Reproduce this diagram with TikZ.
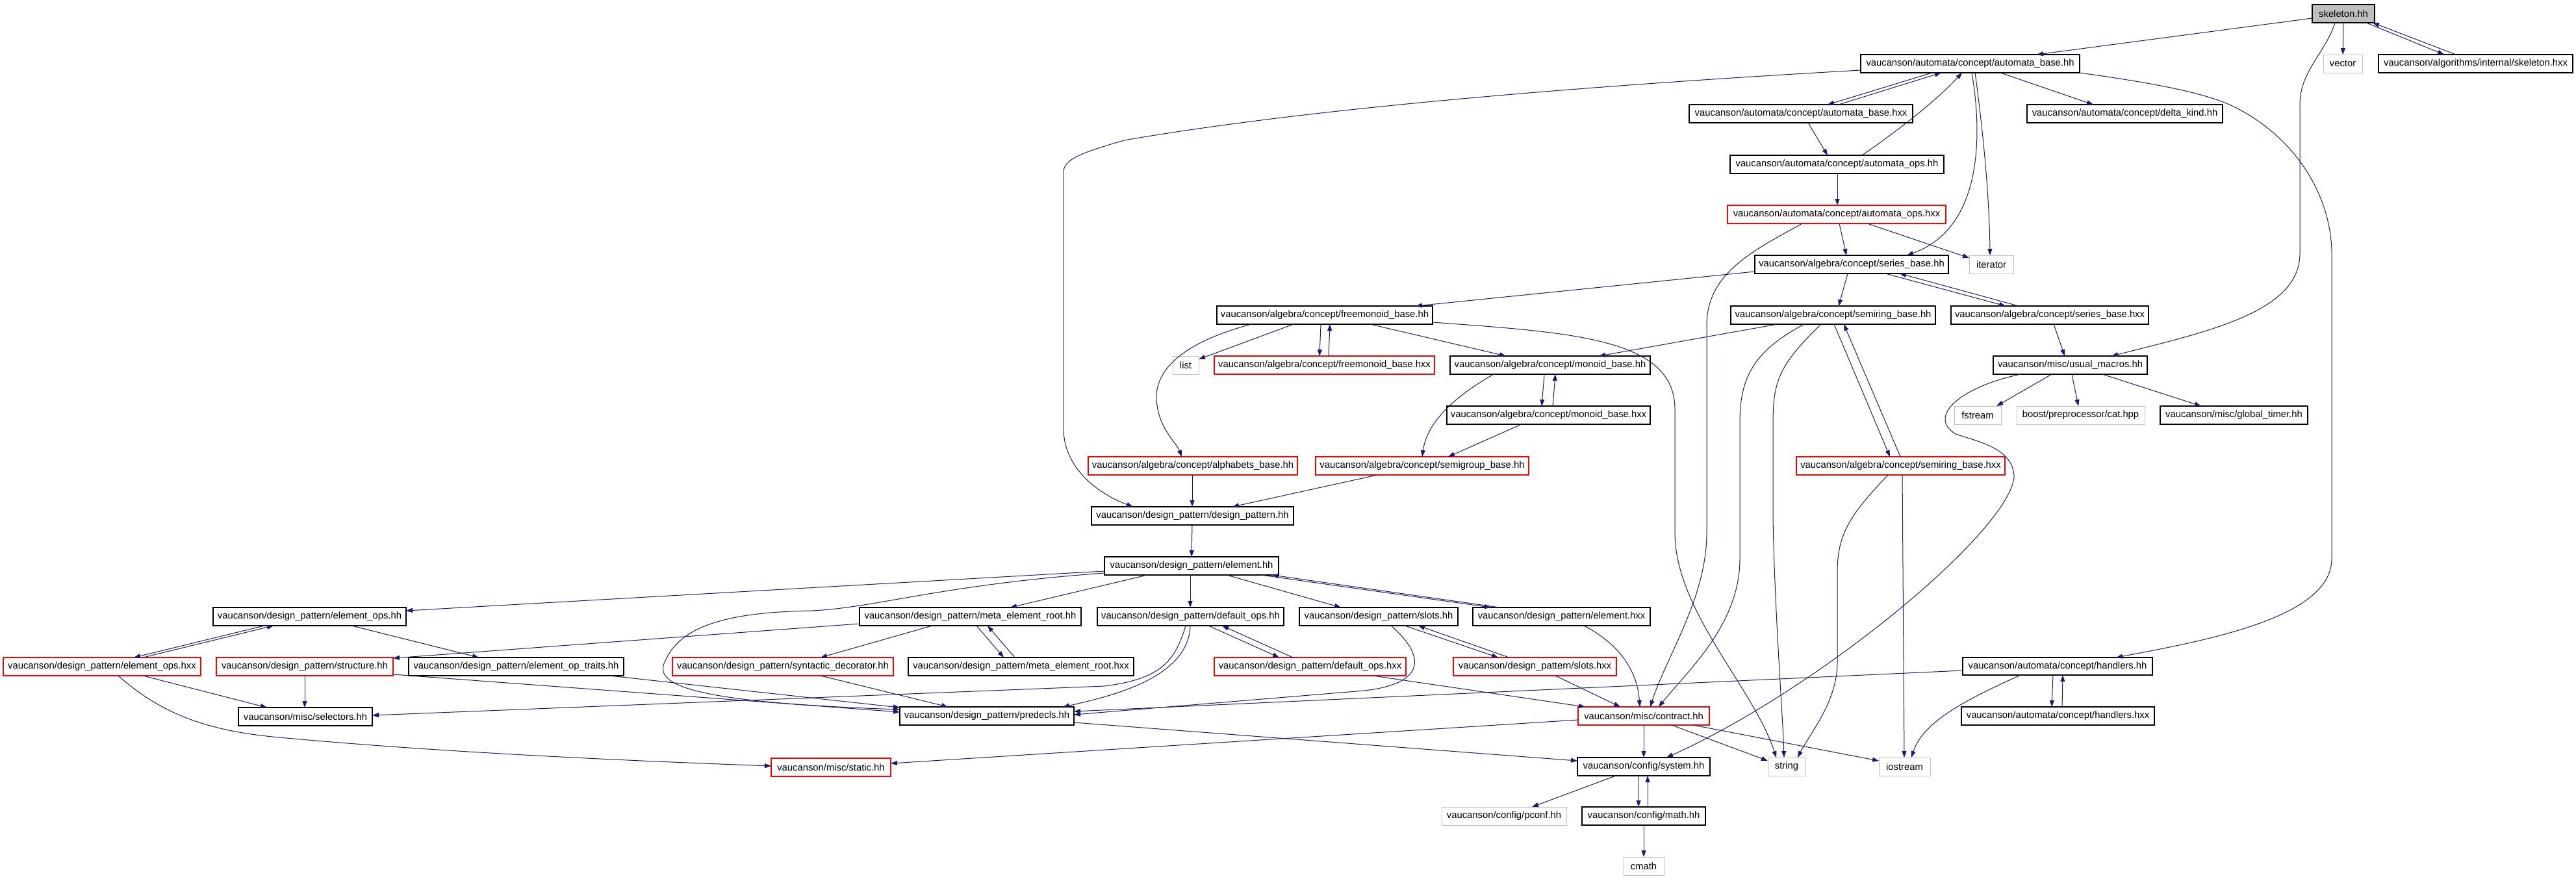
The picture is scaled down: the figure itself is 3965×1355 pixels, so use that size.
\documentclass[tikz,border=0pt]{standalone}
\usepackage{fontspec}
\setmainfont{Liberation Sans}
\usetikzlibrary{arrows.meta}
\definecolor{edgeblue}{HTML}{191970}
\definecolor{grayb}{HTML}{BFBFBF}
\definecolor{redb}{HTML}{FF0000}
\newcommand\gnode[7]{\node[#6, minimum width={(#4-#2)*0.5pt}, minimum height={(#5-#3)*0.5pt}] (#1) at ({(#2+#4)/2},{(#3+#5)/2}) {#7};}
\tikzset{
  nb/.style={draw=black, line width=0.6pt, inner sep=0pt, outer sep=0pt, font=\fontsize{7.4}{9}\selectfont},
  nr/.style={nb, draw=redb},
  ng/.style={nb, draw=grayb, line width=0.5pt},
  nf/.style={nb, fill=grayb},
  dep/.style={draw=edgeblue, line width=0.5pt, -{Triangle[length=5pt,width=3.5pt]}},
}
\begin{document}
\begin{tikzpicture}[x=0.5pt, y=-0.5pt]
\fill[white] (0,0) rectangle (3965,1355);
\useasboundingbox (0,0) rectangle (3965,1355);
% nodes
\gnode{skel}{3559}{7}{3655}{35}{nf}{skeleton.hh}
\gnode{ab}{2864}{84}{3201}{112}{nb}{vaucanson/automata/concept/automata\_base.hh}
\gnode{vec}{3576}{84}{3636}{112}{ng}{vector}
\gnode{skx}{3661}{84}{3960}{112}{nb}{vaucanson/algorithms/internal/skeleton.hxx}
\gnode{abx}{2600}{161}{2944}{189}{nb}{vaucanson/automata/concept/automata\_base.hxx}
\gnode{dk}{3120}{161}{3421}{189}{nb}{vaucanson/automata/concept/delta\_kind.hh}
\gnode{aoh}{2663}{239}{2992}{267}{nb}{vaucanson/automata/concept/automata\_ops.hh}
\gnode{aox}{2659}{316}{2995}{344}{nr}{vaucanson/automata/concept/automata\_ops.hxx}
\gnode{sb}{2701}{393}{2999}{421}{nb}{vaucanson/algebra/concept/series\_base.hh}
\gnode{it}{3031}{393}{3099}{421}{ng}{iterator}
\gnode{fm}{1873}{471}{2205}{499}{nb}{vaucanson/algebra/concept/freemonoid\_base.hh}
\gnode{srb}{2664}{471}{2979}{499}{nb}{vaucanson/algebra/concept/semiring\_base.hh}
\gnode{sbx}{3003}{471}{3307}{499}{nb}{vaucanson/algebra/concept/series\_base.hxx}
\gnode{lst}{1805}{548}{1845}{576}{ng}{list}
\gnode{fmx}{1869}{548}{2208}{576}{nr}{vaucanson/algebra/concept/freemonoid\_base.hxx}
\gnode{mb}{2232}{548}{2540}{576}{nb}{vaucanson/algebra/concept/monoid\_base.hh}
\gnode{um}{3068}{548}{3305}{576}{nb}{vaucanson/misc/usual\_macros.hh}
\gnode{mbx}{2227}{625}{2540}{653}{nb}{vaucanson/algebra/concept/monoid\_base.hxx}
\gnode{fst}{3008}{625}{3080}{653}{ng}{fstream}
\gnode{cat}{3104}{625}{3301}{653}{ng}{boost/preprocessor/cat.hpp}
\gnode{gt}{3325}{625}{3552}{653}{nb}{vaucanson/misc/global\_timer.hh}
\gnode{alph}{1675}{703}{1997}{731}{nr}{vaucanson/algebra/concept/alphabets\_base.hh}
\gnode{sg}{2025}{703}{2353}{731}{nr}{vaucanson/algebra/concept/semigroup\_base.hh}
\gnode{srbx}{2765}{703}{3086}{731}{nr}{vaucanson/algebra/concept/semiring\_base.hxx}
\gnode{dp}{1680}{780}{1991}{808}{nb}{vaucanson/design\_pattern/design\_pattern.hh}
\gnode{el}{1700}{857}{1968}{885}{nb}{vaucanson/design\_pattern/element.hh}
\gnode{eo}{328}{935}{625}{963}{nb}{vaucanson/design\_pattern/element\_ops.hh}
\gnode{mer}{1323}{935}{1664}{963}{nb}{vaucanson/design\_pattern/meta\_element\_root.hh}
\gnode{dop}{1689}{935}{1976}{963}{nb}{vaucanson/design\_pattern/default\_ops.hh}
\gnode{sl}{2000}{935}{2244}{963}{nb}{vaucanson/design\_pattern/slots.hh}
\gnode{elx}{2267}{935}{2540}{963}{nb}{vaucanson/design\_pattern/element.hxx}
\gnode{eox}{5}{1012}{309}{1040}{nr}{vaucanson/design\_pattern/element\_ops.hxx}
\gnode{st}{333}{1012}{605}{1040}{nr}{vaucanson/design\_pattern/structure.hh}
\gnode{eot}{629}{1012}{960}{1040}{nb}{vaucanson/design\_pattern/element\_op\_traits.hh}
\gnode{syn}{1035}{1012}{1375}{1040}{nr}{vaucanson/design\_pattern/syntactic\_decorator.hh}
\gnode{merx}{1398}{1012}{1745}{1040}{nb}{vaucanson/design\_pattern/meta\_element\_root.hxx}
\gnode{dox}{1869}{1012}{2164}{1040}{nr}{vaucanson/design\_pattern/default\_ops.hxx}
\gnode{slx}{2237}{1012}{2488}{1040}{nr}{vaucanson/design\_pattern/slots.hxx}
\gnode{hh}{3021}{1012}{3313}{1039}{nb}{vaucanson/automata/concept/handlers.hh}
\gnode{sel}{367}{1089}{573}{1117}{nb}{vaucanson/misc/selectors.hh}
\gnode{pd}{1385}{1088}{1653}{1116}{nb}{vaucanson/design\_pattern/predecls.hh}
\gnode{ct}{2429}{1088}{2631}{1116}{nr}{vaucanson/misc/contract.hh}
\gnode{hhx}{3019}{1088}{3316}{1116}{nb}{vaucanson/automata/concept/handlers.hxx}
\gnode{sta}{1187}{1167}{1371}{1195}{nr}{vaucanson/misc/static.hh}
\gnode{sys}{2428}{1166}{2632}{1194}{nb}{vaucanson/config/system.hh}
\gnode{str}{2721}{1166}{2779}{1194}{ng}{string}
\gnode{io}{2892}{1166}{2971}{1194}{ng}{iostream}
\gnode{pc}{2219}{1242}{2411}{1270}{ng}{vaucanson/config/pconf.hh}
\gnode{mth}{2435}{1242}{2625}{1270}{nb}{vaucanson/config/math.hh}
\gnode{cm}{2499}{1319}{2561}{1347}{ng}{cmath}
% edges: skeleton
\draw[dep] (skel.west |- 0,28) -- (ab.north -| 3135,0);
\draw[dep] (skel) -- (vec);
\draw[dep] (skel.south -| 3642,0) -- (skx.north -| 3762,0);
\draw[dep] (skx.north -| 3780,0) -- (skel.south -| 3652,0);
\draw[dep] (skel.south -| 3594,0) .. controls (3580,80) and (3540,110) .. (3540,160) -- (3540,390) .. controls (3540,480) and (3400,510) .. (um.north -| 3250,0);
% automata_base
\draw[dep] (ab.west |- 0,108) .. controls (2300,140) and (1950,178) .. (1730,216) .. controls (1665,235) and (1637,245) .. (1637,265) -- (1637,660) .. controls (1637,720) and (1690,760) .. (dp.north -| 1744,0);
\draw[dep] (ab.south -| 2974,0) -- (abx.north -| 2813,0);
\draw[dep] (abx.north -| 2830,0) -- (ab.south -| 2988,0);
\draw[dep] (ab.south -| 3079,0) -- (dk.north -| 3222,0);
\draw[dep] (ab.south -| 3035,0) .. controls (3050,200) and (3055,350) .. (sb.north -| 2935,0);
\draw[dep] (ab.south -| 3040,0) .. controls (3052,200) and (3062,300) .. (it.north -| 3063,0);
\draw[dep] (ab.south east) .. controls (3330,130) and (3400,145) .. (3440,165) .. controls (3530,210) and (3592,300) .. (3589,400) -- (3589,860) .. controls (3589,950) and (3400,985) .. (hh.north -| 3257,0);
\draw[dep] (aoh.north -| 2866,0) .. controls (2930,195) and (2985,150) .. (ab.south -| 3020,0);
\draw[dep] (abx.south -| 2783,0) -- (aoh.north -| 2813,0);
\draw[dep] (aoh.south -| 2828,0) -- (aox.north -| 2828,0);
\draw[dep] (aox.south -| 2831,0) -- (sb.north -| 2842,0);
\draw[dep] (aox.south -| 2874,0) -- (it.west |- 0,397);
\draw[dep] (aox.south -| 2774,0) .. controls (2700,385) and (2627,420) .. (2627,500) -- (2627,820) .. controls (2627,920) and (2565,1010) .. (ct.north -| 2540,0);
% series_base
\draw[dep] (sb.west |- 0,418) -- (fm.north -| 2179,0);
\draw[dep] (sb.south -| 2844,0) -- (srb.north -| 2830,0);
\draw[dep] (sb.south -| 2902,0) -- (sbx.north -| 3087,0);
\draw[dep] (sbx.north -| 3107,0) -- (sb.south -| 2924,0);
\draw[dep] (sbx.south -| 3161,0) -- (um.north -| 3178,0);
% usual_macros
\draw[dep] (um.south -| 3158,0) -- (fst.north -| 3073,0);
\draw[dep] (um.south -| 3189,0) -- (cat.north -| 3199,0);
\draw[dep] (um.south -| 3236,0) -- (gt.north -| 3388,0);
\draw[dep] (um.south -| 3110,0) .. controls (3020,595) and (2965,640) .. (3010,668) .. controls (3045,680) and (3100,690) .. (3100,735) .. controls (3090,820) and (2800,1060) .. (sys.north -| 2565,0);
% freemonoid
\draw[dep] (fm.south -| 1926,0) .. controls (1810,530) and (1778,575) .. (1780,615) .. controls (1783,660) and (1810,680) .. (alph.north -| 1819,0);
\draw[dep] (fm.south -| 1991,0) -- (lst.east |- 0,553);
\draw[dep] (fm.south -| 2033,0) -- (fmx.north -| 2031,0);
\draw[dep] (fmx.north -| 2045,0) -- (fm.south -| 2047,0);
\draw[dep] (fm.south -| 2109,0) -- (mb.north -| 2318,0);
\draw[dep] (fm.east |- 0,496) .. controls (2420,512) and (2578,520) .. (2578,630) -- (2578,820) .. controls (2578,940) and (2700,1060) .. (str.north -| 2734,0);
% monoid
\draw[dep] (srb.south -| 2736,0) -- (mb.north -| 2461,0);
\draw[dep] (mb.south -| 2377,0) -- (mbx.north -| 2373,0);
\draw[dep] (mbx.north -| 2390,0) -- (mb.south -| 2394,0);
\draw[dep] (mb.south -| 2299,0) .. controls (2222,620) and (2195,660) .. (sg.north -| 2189,0);
\draw[dep] (mbx.south -| 2342,0) -- (sg.north -| 2229,0);
\draw[dep] (alph.south -| 1835,0) -- (dp.north -| 1835,0);
\draw[dep] (sg.south -| 2120,0) -- (dp.north -| 1897,0);
\draw[dep] (dp.south -| 1835,0) -- (el.north -| 1834,0);
% semiring
\draw[dep] (srb.south -| 2777,0) .. controls (2700,540) and (2678,580) .. (2678,650) -- (2678,860) .. controls (2678,960) and (2600,1030) .. (ct.north -| 2553,0);
\draw[dep] (srb.south -| 2803,0) .. controls (2740,560) and (2729,585) .. (2729,650) -- (2729,800) .. controls (2732,950) and (2744,1100) .. (str.north -| 2746,0);
\draw[dep] (srb.south -| 2823,0) -- (srbx.north -| 2909,0);
\draw[dep] (srbx.north -| 2925,0) -- (srb.south -| 2838,0);
\draw[dep] (srbx.south -| 2906,0) .. controls (2850,790) and (2828,820) .. (2828,880) -- (2828,1020) .. controls (2828,1080) and (2785,1130) .. (str.north -| 2767,0);
\draw[dep] (srbx.south -| 2928,0) -- (io.north -| 2931,0);
% handlers
\draw[dep] (hh.west |- 0,1032) -- (pd.east |- 0,1095);
\draw[dep] (hh.south -| 3110,0) .. controls (3030,1075) and (2960,1110) .. (io.north -| 2942,0);
\draw[dep] (hh.south -| 3160,0) -- (hhx.north -| 3158,0);
\draw[dep] (hhx.north -| 3174,0) -- (hh.south -| 3175,0);
% contract, system
\draw[dep] (ct.south -| 2530,0) -- (sys.north -| 2530,0);
\draw[dep] (ct.south -| 2573,0) -- (str.west |- 0,1171);
\draw[dep] (ct.south -| 2606,0) -- (io.west |- 0,1171);
\draw[dep] (ct.west |- 0,1108) -- (sta.east |- 0,1175);
\draw[dep] (pd.east |- 0,1112) -- (sys.west |- 0,1171);
\draw[dep] (sys.south -| 2487,0) -- (pc.north -| 2358,0);
\draw[dep] (sys.south -| 2522,0) -- (mth.north -| 2522,0);
\draw[dep] (mth.north -| 2536,0) -- (sys.south -| 2536,0);
\draw[dep] (mth) -- (cm);
% element
\draw[dep] (el.west |- 0,879) -- (eo.east |- 0,940);
\draw[dep] (el.west |- 0,882) .. controls (1450,900) and (1350,935) .. (1250,940) .. controls (1130,942) and (1050,960) .. (1025,1015) .. controls (1005,1050) and (1040,1080) .. (pd.west |- 0,1092);
\draw[dep] (el.south -| 1766,0) -- (mer.north -| 1555,0);
\draw[dep] (el.south -| 1832,0) -- (dop.north -| 1832,0);
\draw[dep] (el.south -| 1888,0) -- (sl.north -| 2064,0);
\draw[dep] (el.south -| 1941,0) -- (elx.north -| 2295,0);
\draw[dep] (elx.north -| 2308,0) -- (el.south -| 1958,0);
\draw[dep] (elx.south -| 2438,0) .. controls (2490,990) and (2520,1030) .. (ct.north -| 2524,0);
% meta_element_root
\draw[dep] (mer.west |- 0,960) -- (st.east |- 0,1013);
\draw[dep] (mer.south -| 1435,0) -- (syn.north -| 1263,0);
\draw[dep] (mer.south -| 1503,0) -- (merx.north -| 1545,0);
\draw[dep] (merx.north -| 1562,0) -- (mer.south -| 1520,0);
% default_ops
\draw[dep] (dop.south -| 1825,0) .. controls (1808,1020) and (1785,1045) .. (1700,1056) -- (sel.east |- 0,1101);
\draw[dep] (dop.south -| 1832,0) .. controls (1830,1040) and (1720,1070) .. (pd.north -| 1636,0);
\draw[dep] (dop.south -| 1860,0) -- (dox.north -| 1969,0);
\draw[dep] (dox.north -| 1990,0) -- (dop.south -| 1881,0);
\draw[dep] (dox.south -| 2113,0) -- (ct.north -| 2440,0);
% slots
\draw[dep] (sl.south -| 2141,0) .. controls (2195,1010) and (2195,1052) .. (2100,1063) -- (pd.east |- 0,1100);
\draw[dep] (sl.south -| 2162,0) -- (slx.north -| 2306,0);
\draw[dep] (slx.north -| 2323,0) -- (sl.south -| 2183,0);
\draw[dep] (slx.south -| 2394,0) -- (ct.north -| 2494,0);
% element_ops
\draw[dep] (eo.south -| 407,0) -- (eox.north -| 206,0);
\draw[dep] (eox.north -| 220,0) -- (eo.south -| 421,0);
\draw[dep] (eo.south -| 541,0) -- (eot.north -| 737,0);
\draw[dep] (eox.south -| 220,0) -- (sel.north -| 411,0);
\draw[dep] (eox.south -| 182,0) .. controls (250,1100) and (320,1125) .. (430,1135) .. controls (700,1160) and (1000,1172) .. (sta.west |- 0,1179);
\draw[dep] (st.south -| 469,0) -- (sel.north -| 469,0);
\draw[dep] (st.east |- 0,1038) -- (pd.west |- 0,1096);
\draw[dep] (eot.south -| 938,0) -- (pd.west |- 0,1089);
\draw[dep] (syn.south -| 1263,0) -- (pd.north -| 1459,0);
\end{tikzpicture}
\end{document}
